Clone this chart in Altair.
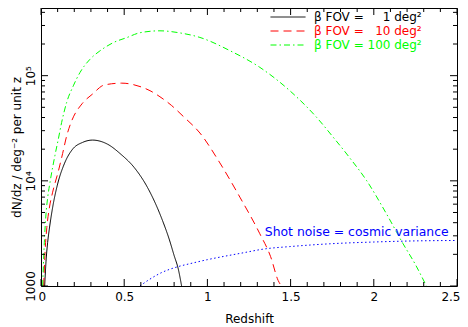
import altair as alt
import pandas as pd

FONT = "DejaVu Sans"

# ---- data ----
z_fov1 = [0.022, 0.03, 0.04, 0.05, 0.07, 0.10, 0.14, 0.19, 0.25, 0.31, 0.36, 0.40,
          0.48, 0.56, 0.64, 0.70, 0.73, 0.77, 0.80, 0.825, 0.845]
n_fov1 = [1000, 1700, 2600, 3480, 5590, 9340, 14500, 20000, 23200, 24400, 23700, 22300,
          17900, 13400, 8650, 5500, 4200, 2800, 1950, 1450, 1000]

z_fov10 = [0.016, 0.025, 0.035, 0.05, 0.07, 0.104, 0.13, 0.155, 0.184, 0.249, 0.309, 0.38,
           0.485, 0.595, 0.655, 0.715, 0.785, 0.855, 0.955, 1.075, 1.195, 1.315, 1.38,
           1.425, 1.445]
n_fov10 = [1000, 2200, 3600, 5500, 7800, 12300, 18200, 27000, 37000, 54600, 66700, 81500,
           84900, 78800, 72000, 63000, 52000, 41000, 28500, 14800, 7000, 3140, 1900,
           1130, 1000]

z_fov100 = [0.01, 0.02, 0.03, 0.04, 0.054, 0.084, 0.104, 0.124, 0.154, 0.194, 0.234, 0.294,
            0.354, 0.434, 0.515, 0.595, 0.715, 0.835, 0.955, 1.135, 1.315, 1.495, 1.656,
            1.756, 1.856, 1.956, 2.076, 2.176, 2.25, 2.316]
n_fov100 = [1000, 2600, 4840, 6900, 9660, 17500, 24900, 35900, 55600, 80000, 107000, 143000,
            172000, 206000, 230000, 256000, 267000, 255000, 231000, 173000, 120000, 72000, 40200,
            26000, 16500, 10100, 4860, 2520, 1600, 1000]

z_shot = [0.595, 0.65, 0.72, 0.825, 0.895, 1.0, 1.135, 1.195, 1.351, 1.495, 1.736, 2.0, 2.176, 2.5]
n_shot = [1000, 1150, 1330, 1530, 1630, 1780, 1960, 2040, 2260, 2370, 2520, 2620, 2670, 2710]

fov_labels = ["\u03b2 FOV = \u2007\u20071 deg\u00b2",
              "\u03b2 FOV = \u200710 deg\u00b2",
              "\u03b2 FOV = 100 deg\u00b2"]
fov_colors = ["#000000", "#ff0000", "#00ff00"]
fov_dashes = [[1, 0], [8, 5], [6, 3, 1.5, 3]]

annotation_text = ["Shot noise = cosmic variance"]
annotation_z = [1.345]
annotation_n = [3290]

x_major = [0, 0.5, 1, 1.5, 2, 2.5]
x_minor = [0.1, 0.2, 0.3, 0.4, 0.6, 0.7, 0.8, 0.9, 1.1, 1.2, 1.3, 1.4, 1.6, 1.7, 1.8, 1.9,
           2.1, 2.2, 2.3, 2.4]
y_major = [1000, 10000, 100000]
y_minor = [2000, 3000, 4000, 5000, 6000, 7000, 8000, 9000,
           20000, 30000, 40000, 50000, 60000, 70000, 80000, 90000,
           200000, 300000, 400000]

W, H = 416, 278
MAJ, MIN = 7, 4

# ---- tables ----
rows = []
for lab, zs, ns in zip(fov_labels, [z_fov1, z_fov10, z_fov100], [n_fov1, n_fov10, n_fov100]):
    for z, n in zip(zs, ns):
        rows.append({"z": z, "n": n, "series": lab})
fov_df = pd.DataFrame(rows)
shot_df = pd.DataFrame({"z": z_shot, "n": n_shot})
ann_df = pd.DataFrame({"z": annotation_z, "n": annotation_n, "text": annotation_text})
xmaj_df = pd.DataFrame({"z": x_major})
xmin_df = pd.DataFrame({"z": x_minor})
ymaj_df = pd.DataFrame({"n": y_major})
ymin_df = pd.DataFrame({"n": y_minor})

xs = alt.Scale(domain=[0, 2.5], nice=False, zero=False)
ys = alt.Scale(type="log", domain=[1000, 440000], nice=False)

x_axis = alt.Axis(
    orient="bottom", values=x_major, format="~g", ticks=False, tickSize=0, domain=False,
    grid=False, labelPadding=5, labelFlush=True, labelFlushOffset=3, labelOverlap=False,
    title="Redshift", titlePadding=11)

y_axis = alt.Axis(
    orient="left", values=y_major, ticks=False, tickSize=0, domain=False, grid=False,
    labelAngle=-90, labelAlign="center", labelBaseline="alphabetic", labelPadding=7,
    labelFlush=False, labelOverlap=False,
    labelExpr="datum.value == 1000 ? '1000' : (datum.value == 10000 ? '10\u2074' : '10\u2075')",
    title="dN/dz / deg\u207b\u00b2 per unit z", titlePadding=1)

X = alt.X("z:Q", scale=xs, axis=x_axis)
Y = alt.Y("n:Q", scale=ys, axis=y_axis)

legend = alt.Legend(title=None, orient="none", legendX=229, legendY=3, symbolType="stroke",
                    symbolSize=1225, symbolStrokeWidth=1, clipHeight=12,
                    labelFont=FONT, labelFontSize=12, labelOffset=8, rowPadding=2, padding=0,
                    labelLimit=250,
                    labelColor={"expr": "scale('color', datum.value)"})

lines = alt.Chart(fov_df).mark_line(strokeWidth=1, clip=True, interpolate="monotone").encode(
    x=X, y=Y,
    color=alt.Color("series:N", scale=alt.Scale(domain=fov_labels, range=fov_colors),
                    legend=legend),
    strokeDash=alt.StrokeDash("series:N", scale=alt.Scale(domain=fov_labels, range=fov_dashes),
                              legend=legend),
)

shot = alt.Chart(shot_df).mark_line(strokeWidth=1, color="#0000ff", strokeDash=[1.5, 2.5],
                                     clip=True, interpolate="monotone").encode(x=X, y=Y)

ann = alt.Chart(ann_df).mark_text(font=FONT, fontSize=12.4, color="#0000ff", align="left",
                                  baseline="middle").encode(x=X, y=Y, text="text:N")


# inward tick marks on all four sides, placed through the scales
def x_ticks(df, y0, y1):
    return alt.Chart(df).mark_rule(color="black", strokeWidth=1).encode(
        x=X, y=alt.value(y0), y2=alt.value(y1))


def y_ticks(df, x0, x1):
    return alt.Chart(df).mark_rule(color="black", strokeWidth=1).encode(
        y=Y, x=alt.value(x0), x2=alt.value(x1))


ticks = [
    x_ticks(xmaj_df, H, H - MAJ), x_ticks(xmin_df, H, H - MIN),
    x_ticks(xmaj_df, 0, MAJ), x_ticks(xmin_df, 0, MIN),
    y_ticks(ymaj_df, 0, MAJ), y_ticks(ymin_df, 0, MIN),
    y_ticks(ymaj_df, W, W - MAJ), y_ticks(ymin_df, W, W - MIN),
]

chart = alt.layer(lines, shot, ann, *ticks).properties(
    width=W, height=H,
    padding={"left": 33, "top": 0, "right": 3, "bottom": 40},
    autosize=alt.AutoSizeParams(type="none"),
    background="white",
).configure_view(
    stroke="black", strokeWidth=1
).configure_axis(
    labelFont=FONT, titleFont=FONT, labelFontSize=12, titleFontSize=12,
    labelColor="black", titleColor="black", titleFontWeight="normal"
)

chart.save("out.html", embed_options={"renderer": "svg", "actions": False})
